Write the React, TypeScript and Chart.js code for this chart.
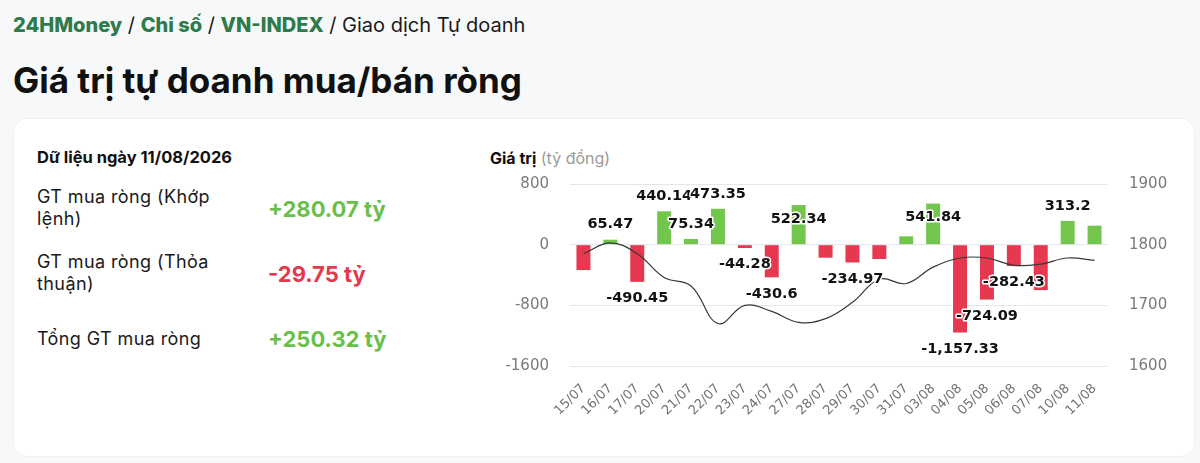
import React, { useEffect, useRef } from "react";
import { Chart, registerables } from "chart.js";

Chart.register(...registerables);

const categories = [
  "15/07", "16/07", "17/07", "20/07", "21/07", "22/07", "23/07", "24/07", "27/07", "28/07",
  "29/07", "30/07", "31/07", "03/08", "04/08", "05/08", "06/08", "07/08", "10/08", "11/08",
];

// Net proprietary trading value (tỷ đồng)
const netValues = [
  -335, 65.47, -490.45, 440.14, 75.34, 473.35, -44.28, -430.6, 522.34, -172,
  -234.97, -189, 110, 541.84, -1157.33, -724.09, -282.43, -599, 313.2, 250.32,
];

// VN-INDEX close (right axis)
const indexValues = [
  1785, 1803, 1785, 1746, 1732, 1670, 1700, 1690, 1672, 1678,
  1705, 1743, 1736, 1763, 1778, 1778, 1766, 1768, 1778, 1774,
];

// where each value label is drawn: above/below the bar end, inside it, or hidden
const labelPlacement = [
  "none", "end", "end", "end", "end", "end", "end", "end", "inside", "none",
  "end", "none", "none", "inside", "end", "end", "end", "none", "end", "none",
];

const leftMin = -1600;
const leftMax = 800;
const leftStep = 800;
const rightMin = 1600;
const rightMax = 1900;
const rightStep = 100;

const GREEN = "#72c64c";
const RED = "#e6394f";
const TICK_FONT = "'DejaVu Sans', Verdana, sans-serif";

const labelPlugin = {
  id: "barValueLabels",
  afterDatasetsDraw(chart: any) {
    const meta = chart.getDatasetMeta(1);
    const ctx = chart.ctx as CanvasRenderingContext2D;
    ctx.save();
    ctx.font = `bold 14.5px ${TICK_FONT}`;
    ctx.textAlign = "center";
    ctx.textBaseline = "middle";
    ctx.lineJoin = "round";
    meta.data.forEach((el: any, i: number) => {
      const mode = labelPlacement[i];
      if (mode === "none") return;
      const v = netValues[i];
      const text = v.toLocaleString("en-US", { maximumFractionDigits: 2 });
      const { x, y } = el.getProps(["x", "y"], true);
      let ty: number;
      if (mode === "inside") ty = v >= 0 ? y + 14 : y - 14;
      else ty = v >= 0 ? y - 15 : y + 16.5;
      ctx.lineWidth = 3;
      ctx.strokeStyle = "#ffffff";
      ctx.strokeText(text, x, ty);
      ctx.fillStyle = "#111111";
      ctx.fillText(text, x, ty);
    });
    ctx.restore();
  },
};

function NetChart() {
  const ref = useRef<HTMLCanvasElement | null>(null);
  useEffect(() => {
    if (!ref.current) return;
    const chart = new Chart(ref.current, {
      type: "bar",
      data: {
        labels: categories,
        datasets: [
          {
            type: "line",
            data: indexValues,
            yAxisID: "y1",
            borderColor: "#383838",
            borderWidth: 1.2,
            pointRadius: 0,
            tension: 0.4,
            order: 0,
          } as any,
          {
            type: "bar",
            data: netValues,
            yAxisID: "y",
            backgroundColor: netValues.map((v) => (v >= 0 ? GREEN : RED)),
            barPercentage: 0.52,
            categoryPercentage: 1,
            order: 1,
          } as any,
        ],
      },
      options: {
        responsive: false,
        animation: false,
        devicePixelRatio: 1,
        layout: { padding: { top: 12, left: 0, right: 0, bottom: 0 } },
        plugins: { legend: { display: false }, tooltip: { enabled: false } },
        scales: {
          x: {
            grid: { display: false },
            border: { display: false },
            ticks: {
              color: "#707070",
              font: { family: TICK_FONT, size: 13 },
              minRotation: 45,
              maxRotation: 45,
              autoSkip: false,
              padding: 7,
            },
            afterFit: (s: any) => {
              s.height = 96;
            },
          },
          y: {
            position: "left",
            min: leftMin,
            max: leftMax,
            ticks: {
              stepSize: leftStep,
              color: "#7a7a7a",
              font: { family: TICK_FONT, size: 15 },
              padding: 21,
              callback: (v: any) => String(v),
            },
            grid: { color: "#e2e6ed", drawTicks: false },
            border: { display: false },
            afterFit: (s: any) => {
              s.width = 70;
            },
          },
          y1: {
            position: "right",
            min: rightMin,
            max: rightMax,
            ticks: {
              stepSize: rightStep,
              color: "#7a7a7a",
              font: { family: TICK_FONT, size: 15 },
              padding: 21,
              callback: (v: any) => String(v),
            },
            grid: { display: false, drawTicks: false },
            border: { display: false },
            afterFit: (s: any) => {
              s.width = 72;
            },
          },
        },
      } as any,
      plugins: [labelPlugin],
    });
    return () => chart.destroy();
  }, []);
  return (
    <canvas
      ref={ref}
      width={680}
      height={308}
      style={{ position: "absolute", left: 500, top: 154, width: 680, height: 308 }}
    />
  );
}

export default function App() {
  useEffect(() => {
    document.body.style.margin = "0";
    document.body.style.background = "#f7f8f9";
  }, []);
  const ui = "Inter, 'Noto Sans', sans-serif";
  const greenLink = { color: "#2d7a4b", fontWeight: 800 };
  return (
    <div style={{ position: "relative", width: 1200, height: 463, overflow: "hidden", fontFamily: ui, background: "#f7f8f9" }}>
      <div style={{ position: "absolute", left: 13, top: 12, fontSize: 20, lineHeight: "26px", color: "#1a1a1a", whiteSpace: "nowrap" }}>
        <span style={greenLink}>24HMoney</span> / <span style={greenLink}>Chi số</span> /{" "}
        <span style={greenLink}>VN-INDEX</span> / Giao dịch Tự doanh
      </div>
      <div style={{ position: "absolute", left: 13, top: 58, fontSize: 35, lineHeight: "44px", fontWeight: 700, color: "#111", whiteSpace: "nowrap" }}>
        Giá trị tự doanh mua/bán ròng
      </div>
      <div
        style={{
          position: "absolute",
          left: 13,
          top: 118,
          width: 1182,
          height: 339,
          background: "#fff",
          borderRadius: 14,
          border: "1px solid #eef0f2",
          boxSizing: "border-box",
        }}
      />
      <div style={{ position: "absolute", left: 37, top: 147, fontSize: 16.5, lineHeight: "20px", fontWeight: 700, color: "#111", whiteSpace: "nowrap" }}>
        Dữ liệu ngày 11/08/2026
      </div>
      <div style={{ position: "absolute", left: 37, top: 186, width: 215, fontSize: 18, letterSpacing: 0.4, lineHeight: "22px", color: "#1a1a1a" }}>
        GT mua ròng (Khớp lệnh)
      </div>
      <div style={{ position: "absolute", left: 268, top: 195, fontSize: 22, lineHeight: "28px", fontWeight: 700, color: "#6abf4b", whiteSpace: "nowrap" }}>
        +280.07 tỷ
      </div>
      <div style={{ position: "absolute", left: 37, top: 251, width: 215, fontSize: 18, letterSpacing: 0.4, lineHeight: "22px", color: "#1a1a1a" }}>
        GT mua ròng (Thỏa thuận)
      </div>
      <div style={{ position: "absolute", left: 268, top: 260, fontSize: 22, lineHeight: "28px", fontWeight: 700, color: "#e2394f", whiteSpace: "nowrap" }}>
        -29.75 tỷ
      </div>
      <div style={{ position: "absolute", left: 37, top: 328, width: 230, fontSize: 18, letterSpacing: 0.4, lineHeight: "22px", color: "#1a1a1a", whiteSpace: "nowrap" }}>
        Tổng GT mua ròng
      </div>
      <div style={{ position: "absolute", left: 268, top: 325, fontSize: 22, lineHeight: "28px", fontWeight: 700, color: "#6abf4b", whiteSpace: "nowrap" }}>
        +250.32 tỷ
      </div>
      <div style={{ position: "absolute", left: 490, top: 148, fontSize: 16, lineHeight: "20px", whiteSpace: "nowrap" }}>
        <span style={{ fontWeight: 700, color: "#111" }}>Giá trị</span>{" "}
        <span style={{ color: "#9a9a9a" }}>(tỷ đồng)</span>
      </div>
      <NetChart />
    </div>
  );
}
